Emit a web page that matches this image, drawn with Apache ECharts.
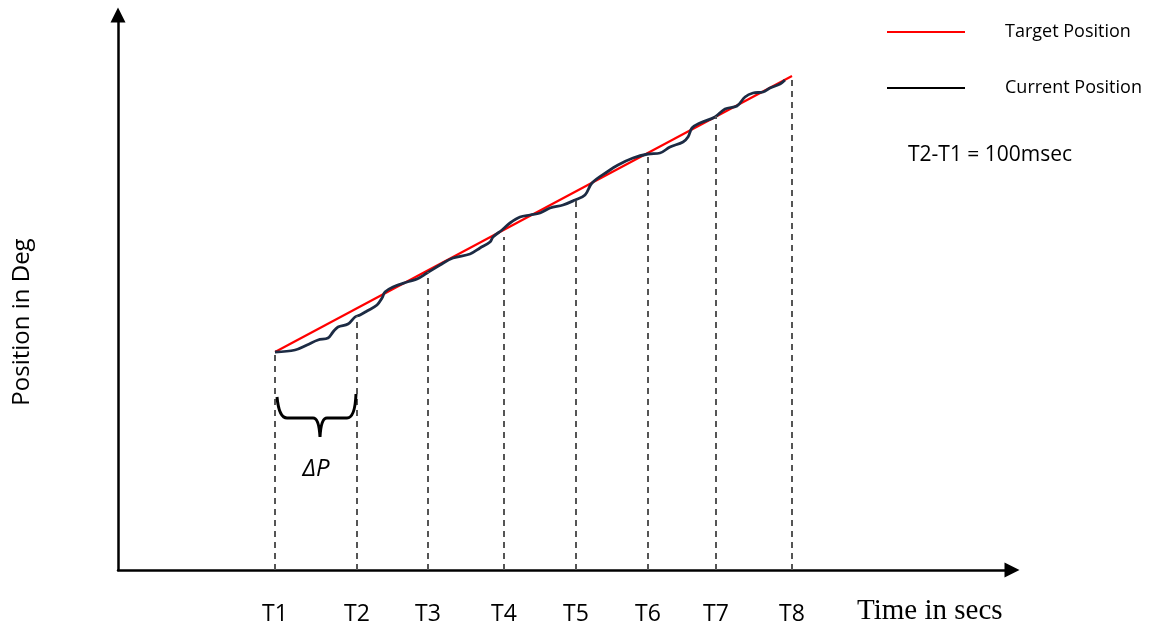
<!DOCTYPE html>
<html>
<head>
<meta charset="utf-8">
<script src="https://cdn.jsdelivr.net/npm/echarts@6/dist/echarts.min.js"></script>
<style>
html,body{margin:0;padding:0;background:#fff;}
#chart{width:1151px;height:624px;}
</style>
</head>
<body>
<div id="chart"></div>
<script>
// Time-axis marks (arbitrary position units)
const tPositions = [157, 239, 310, 386, 458, 530, 598, 674];
const tLabels = ['T1', 'T2', 'T3', 'T4', 'T5', 'T6', 'T7', 'T8'];
// Top of each dashed drop line (position units)
const dropTop = [218, 254, 298, 333, 370, 416, 454, 493];

// Target position (straight ramp)
const targetX = [157, 674];
const targetY = [218, 494];

// Current position (wobbly tracking curve)
const currentX = [157,177,189,200,210,215,220,230,237,242,249,259,264,267,275,289,299,309,322,335,352,362,372,375,384,392,402,412,422,432,445,457,467,474,489,500,515,530,542,552,565,570,574,582,597,607,619,627,635,645,652,662,667];
const currentY = [218,220,225,230,232,238,243,246,253,255,259,265,272,278,283,288,291,297,305,312,316,322,328,333,340,347,353,355,357,362,365,370,375,387,398,405,412,416,417,423,428,433,442,447,453,461,464,473,477,478,482,486,490];

// ΔP brace: from T1 to T2 at a level, label level
const braceData = [[157, 239, 152, 101]];

const seriesNames = ['Target Position', 'Current Position'];

const chart = echarts.init(document.getElementById('chart'), null, {renderer: 'canvas'});

const zip = (xs, ys) => xs.map((x, i) => [x, ys[i]]);

const option = {
  animation: false,
  backgroundColor: '#ffffff',
  grid: {left: 118, right: 139, top: 15, bottom: 54, containLabel: false, outerBoundsMode: 'none'},
  xAxis: {
    type: 'value', min: 0, max: 894,
    axisLine: {show: true, symbol: ['none', 'triangle'], symbolSize: [15, 15], lineStyle: {color: '#000', width: 2.5}},
    axisTick: {show: false},
    splitLine: {show: false},
    axisLabel: {
      show: true, customValues: tPositions, margin: 33,
      fontFamily: 'Open Sans', fontSize: 23, color: '#000',
      formatter: v => tLabels[tPositions.indexOf(v)] || ''
    }
  },
  yAxis: {
    type: 'value', min: 0, max: 555,
    axisLine: {show: true, symbol: ['none', 'triangle'], symbolSize: [15, 15], lineStyle: {color: '#000', width: 2.5}},
    axisTick: {show: false},
    splitLine: {show: false},
    axisLabel: {show: false}
  },
  legend: {
    show: true, orient: 'vertical', left: 882, top: 15,
    itemWidth: 78, itemHeight: 2, itemGap: 32,
    icon: 'rect',
    textStyle: {fontFamily: 'Open Sans', fontSize: 18, color: '#000', lineHeight: 24, padding: [0, 0, 0, 35]},
    data: [
      {name: seriesNames[0], itemStyle: {color: '#ff0000'}},
      {name: seriesNames[1], itemStyle: {color: '#000000'}}
    ]
  },
  series: [
    {
      name: 'drops', type: 'line', data: [], silent: true, z: 1,
      markLine: {
        silent: true, symbol: ['none', 'none'], animation: false,
        label: {show: false},
        lineStyle: {type: [6, 5], color: '#555555', width: 2},
        data: tPositions.map((x, i) => [{coord: [x, 0]}, {coord: [x, dropTop[i]]}])
      }
    },
    {
      name: seriesNames[0], type: 'line', data: zip(targetX, targetY),
      symbol: 'none', lineStyle: {color: '#ff0000', width: 2.2}, itemStyle: {color: '#ff0000'}, z: 3
    },
    {
      name: seriesNames[1], type: 'line', data: zip(currentX, currentY), smooth: 0.35,
      symbol: 'none', lineStyle: {color: '#1c2b44', width: 2.8}, itemStyle: {color: '#1c2b44'}, z: 4
    },
    {
      name: 'brace', type: 'custom', silent: true, z: 5,
      data: braceData,
      renderItem: function (params, api) {
        const p1 = api.coord([api.value(0), api.value(2)]);
        const p2 = api.coord([api.value(1), api.value(2)]);
        const pt = api.coord([(api.value(0) + api.value(1)) / 2, api.value(3)]);
        const xl = p1[0], xr = p2[0], yb = p1[1];
        const xm = (xl + xr) / 2 + 4;
        const d = 'M' + (xl + 2) + ' ' + (yb - 21) +
          ' Q' + (xl + 4) + ' ' + yb + ' ' + (xl + 12) + ' ' + yb +
          ' L' + (xm - 7) + ' ' + yb +
          ' Q' + (xm - 1) + ' ' + yb + ' ' + xm + ' ' + (yb + 19) +
          ' Q' + (xm + 1) + ' ' + yb + ' ' + (xm + 7) + ' ' + yb +
          ' L' + (xr - 10) + ' ' + yb +
          ' Q' + (xr - 2) + ' ' + yb + ' ' + (xr - 1) + ' ' + (yb - 24);
        return {
          type: 'group',
          children: [
            {type: 'path', shape: {pathData: d}, style: {stroke: '#000', lineWidth: 3, fill: null}},
            {type: 'text', x: pt[0], y: pt[1], style: {text: 'ΔP', font: 'italic 24px "Open Sans"', fill: '#000', align: 'center', verticalAlign: 'middle'}}
          ]
        };
      }
    }
  ],
  graphic: [
    {type: 'text', x: 22, y: 322, rotation: Math.PI / 2,
     style: {text: 'Position in Deg', font: '24px "Open Sans"', fill: '#000', align: 'center', verticalAlign: 'middle'}},
    {type: 'text', x: 857, y: 611,
     style: {text: 'Time in secs', font: '29px "Liberation Serif"', fill: '#000', align: 'left', verticalAlign: 'middle'}},
    {type: 'text', x: 908, y: 155,
     style: {text: 'T2-T1 = 100msec', font: '21px "Open Sans"', fill: '#000', align: 'left', verticalAlign: 'middle'}}
  ]
};
chart.setOption(option);
</script>
</body>
</html>
